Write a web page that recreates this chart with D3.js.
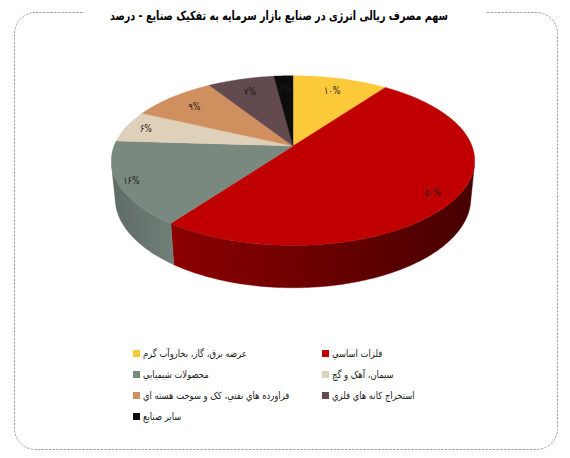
<!DOCTYPE html>
<html><head><meta charset="utf-8">
<script src="https://cdn.jsdelivr.net/npm/d3@7/dist/d3.min.js"></script>
<style>body{margin:0;background:#fff}svg{display:block}text{font-family:"DejaVu Sans",sans-serif}</style>
</head><body>
<svg id="c" width="570" height="458"></svg>
<script>
// ---- data ----
const title = "سهم مصرف ریالی انرژی در صنایع  بازار سرمایه به تفکیک صنایع - درصد";
const categories = [
  "عرضه برق، گاز، بخاروآب گرم",
  "فلزات اساسي",
  "محصولات شیمیایي",
  "سیمان، آهک و گچ",
  "فراورده هاي نفتي، کک و سوخت هسته اي",
  "استخراج کانه هاي فلزي",
  "ساير صنايع"
];
const values = [10, 50, 16, 6, 9, 7, 2];
const colors = ["#FCC93A", "#C00000", "#79897F", "#DFD0B9", "#CF8F5F", "#634A4F", "#0C0C0C"];
// side gradient (left, right) per slice
const sideColors = [
  ["#A8862A", "#8F7020"], ["#8C0000", "#470000"], ["#5E6C65", "#707F78"],
  ["#A89C88", "#968A78"], ["#9A6A45", "#85593A"], ["#4A3639", "#3E2D30"], ["#050505", "#050505"]
];
const labelR = [0.8, 0.88, 0.93, 0.88, 0.8, 0.8, 0.8];

const fa = n => String(n).replace(/\d/g, d => "۰۱۲۳۴۵۶۷۸۹"[d]);

const svg = d3.select("#c");
// frame
svg.append("rect").attr("x", 14.5).attr("y", 12.5).attr("width", 543).attr("height", 437)
  .attr("rx", 21).attr("fill", "none").attr("stroke", "#a0a0a0").attr("stroke-width", 1)
  .attr("stroke-dasharray", "2.5,1.2");
svg.append("rect").attr("x", 84).attr("y", 2).attr("width", 402).attr("height", 22).attr("fill", "#fff");
svg.append("text").attr("x", 110).attr("y", 20)
  .attr("font-size", 12.5).attr("font-weight", "bold").attr("fill", "#000")
  .attr("textLength", 338).attr("lengthAdjust", "spacingAndGlyphs").text(title);

// ---- 3D pie ----
const cx = 293, cy = 146, S = 179, L = 5.18, sinA = 0.46, cosA = 0.888, T = 0.24;
const xs = d3.scaleLinear().domain([-1, 1]).range([cx - S, cx + S]);
const ys = d3.scaleLinear().domain([-1, 1]).range([cy + S, cy - S]);
function proj(phi, r, Y) {
  const X = r * Math.cos(phi), D = r * Math.sin(phi);
  const d = Y * sinA + D * cosA, v = Y * cosA - D * sinA, sc = L / (L - d);
  return [xs(X * sc), ys(v * sc)];
}
const pie = d3.pie().sort(null).startAngle(0).endAngle(2 * Math.PI);
const arcs = pie(values);
const line = d3.line();
const toPhi = a => a - Math.PI / 2;
function arcPts(p1, p2, r, Y) {
  const n = Math.max(2, Math.ceil(Math.abs(p2 - p1) / 0.01));
  return d3.range(n + 1).map(i => proj(p1 + (p2 - p1) * i / n, r, Y));
}
const defs = svg.append("defs");
const phiVis = Math.asin(1 / (L * cosA));
const gSide = svg.append("g"), gTop = svg.append("g"), gLab = svg.append("g");
arcs.forEach((a, i) => {
  let p1 = toPhi(a.startAngle), p2 = toPhi(a.endAngle);
  const lo = Math.max(p1, phiVis), hi = Math.min(p2, Math.PI - phiVis);
  if (hi > lo) {
    const gid = "sg" + i;
    const g = defs.append("linearGradient").attr("id", gid).attr("x1", 1).attr("x2", 0).attr("y1", 0).attr("y2", 0);
    g.append("stop").attr("offset", 0).attr("stop-color", sideColors[i][1]);
    g.append("stop").attr("offset", 1).attr("stop-color", sideColors[i][0]);
    const pts = arcPts(lo, hi, 1, 0).concat(arcPts(hi, lo, 1, -T));
    gSide.append("path").attr("d", line(pts) + "Z").attr("fill", `url(#${gid})`)
      .attr("stroke", `url(#${gid})`).attr("stroke-width", 0.4);
  }
  const tp = [proj(0, 0, 0)].concat(arcPts(p1, p2, 1, 0));
  gTop.append("path").attr("d", line(tp) + "Z").attr("fill", colors[i])
    .attr("stroke", colors[i]).attr("stroke-width", 0.4);
  const m = toPhi((a.startAngle + a.endAngle) / 2);
  const lp = proj(m, labelR[i], 0);
  gLab.append("text").attr("transform", `translate(${lp[0]},${lp[1] + 3.5}) scale(0.8,1)`)
    .attr("text-anchor", "middle").attr("font-size", 10).attr("fill", "#1a1a1a")
    .text(fa(values[i]) + "%");
});

// ---- legend ----
const colX = [133, 322], rowY0 = 350, rowH = 21;
const lg = svg.append("g");
categories.forEach((c, i) => {
  const x = colX[i % 2], y = rowY0 + Math.floor(i / 2) * rowH;
  lg.append("rect").attr("x", x).attr("y", y).attr("width", 7).attr("height", 7).attr("fill", colors[i]);
  lg.append("text").attr("transform", `translate(${x + 10},${y + 7}) scale(0.84,1)`)
    .attr("font-size", 10).attr("fill", "#1a1a1a").text(c);
});
</script>
</body></html>
